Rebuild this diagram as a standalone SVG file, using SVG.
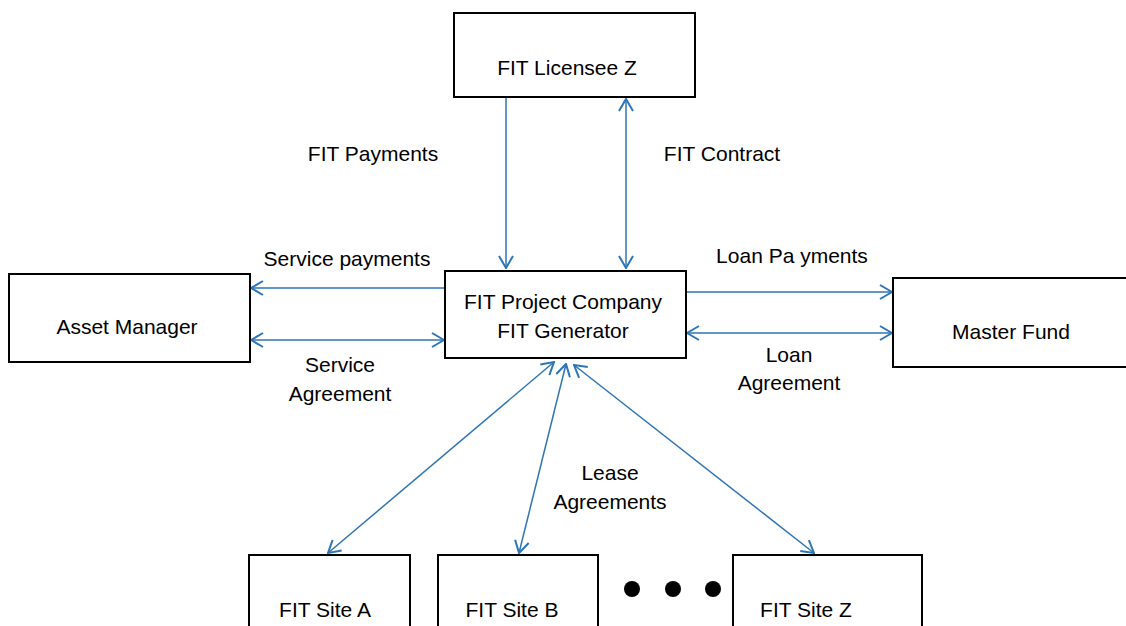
<svg xmlns="http://www.w3.org/2000/svg" width="1126" height="626" viewBox="0 0 1126 626">
<style>
.box{fill:#fff;stroke:#000;stroke-width:2}
.t{font-family:"Liberation Sans",Arial,sans-serif;font-size:21px;fill:#000;text-anchor:middle}
.c{fill:none;stroke:#2e75b6;stroke-width:1.5}
</style>
<defs>
<marker id="ah" viewBox="0 0 14 16" refX="13" refY="8" markerWidth="14" markerHeight="16" markerUnits="userSpaceOnUse" orient="auto-start-reverse">
<path d="M1,1 L13,8 L1,15" fill="none" stroke="#2e75b6" stroke-width="2"/>
</marker>
</defs>
<rect width="1126" height="626" fill="#fff"/>
<g id="connectors">
<line class="c" x1="506" y1="97" x2="506" y2="268" marker-end="url(#ah)"/>
<line class="c" x1="626" y1="99" x2="626" y2="268" marker-start="url(#ah)" marker-end="url(#ah)"/>
<line class="c" x1="445" y1="288" x2="251" y2="288" marker-end="url(#ah)"/>
<line class="c" x1="251" y1="340" x2="444" y2="340" marker-start="url(#ah)" marker-end="url(#ah)"/>
<line class="c" x1="686" y1="292" x2="892" y2="292" marker-end="url(#ah)"/>
<line class="c" x1="687" y1="333" x2="892" y2="333" marker-start="url(#ah)" marker-end="url(#ah)"/>
<line class="c" x1="554" y1="362" x2="328" y2="553" marker-start="url(#ah)" marker-end="url(#ah)"/>
<line class="c" x1="566" y1="364" x2="519" y2="553" marker-start="url(#ah)" marker-end="url(#ah)"/>
<line class="c" x1="574" y1="365" x2="814" y2="553" marker-start="url(#ah)" marker-end="url(#ah)"/>
</g>
<g id="labels">
<text class="t" x="373" y="161">FIT Payments</text>
<text class="t" x="722" y="161">FIT Contract</text>
<text class="t" x="347" y="266">Service payments</text>
<text class="t" x="792" y="263" xml:space="preserve">Loan Pa yments</text>
<text class="t" x="340" y="372">Service</text>
<text class="t" x="340" y="401">Agreement</text>
<text class="t" x="789" y="362">Loan</text>
<text class="t" x="789" y="390">Agreement</text>
<text class="t" x="610" y="480">Lease</text>
<text class="t" x="610" y="509">Agreements</text>
</g>
<g id="licensee">
<rect class="box" x="454" y="13" width="241" height="84"/>
<text class="t" x="567" y="75">FIT Licensee Z</text>
</g>
<g id="project">
<rect class="box" x="445" y="271" width="241" height="87"/>
<text class="t" x="563" y="309">FIT Project Company</text>
<text class="t" x="563" y="338">FIT Generator</text>
</g>
<g id="asset">
<rect class="box" x="9" y="274" width="241" height="88"/>
<text class="t" x="127" y="334">Asset Manager</text>
</g>
<g id="master">
<rect class="box" x="893" y="278" width="240" height="89"/>
<text class="t" x="1011" y="339">Master Fund</text>
</g>
<g id="siteA">
<rect class="box" x="249" y="555" width="161" height="80"/>
<text class="t" x="325" y="617">FIT Site A</text>
</g>
<g id="siteB">
<rect class="box" x="438" y="555" width="160" height="80"/>
<text class="t" x="512" y="617">FIT Site B</text>
</g>
<g id="dots">
<circle cx="632" cy="589" r="8" fill="#000"/>
<circle cx="673" cy="589" r="8" fill="#000"/>
<circle cx="713" cy="589" r="8" fill="#000"/>
</g>
<g id="siteZ">
<rect class="box" x="733" y="555" width="189" height="80"/>
<text class="t" x="806" y="617">FIT Site Z</text>
</g>
</svg>
